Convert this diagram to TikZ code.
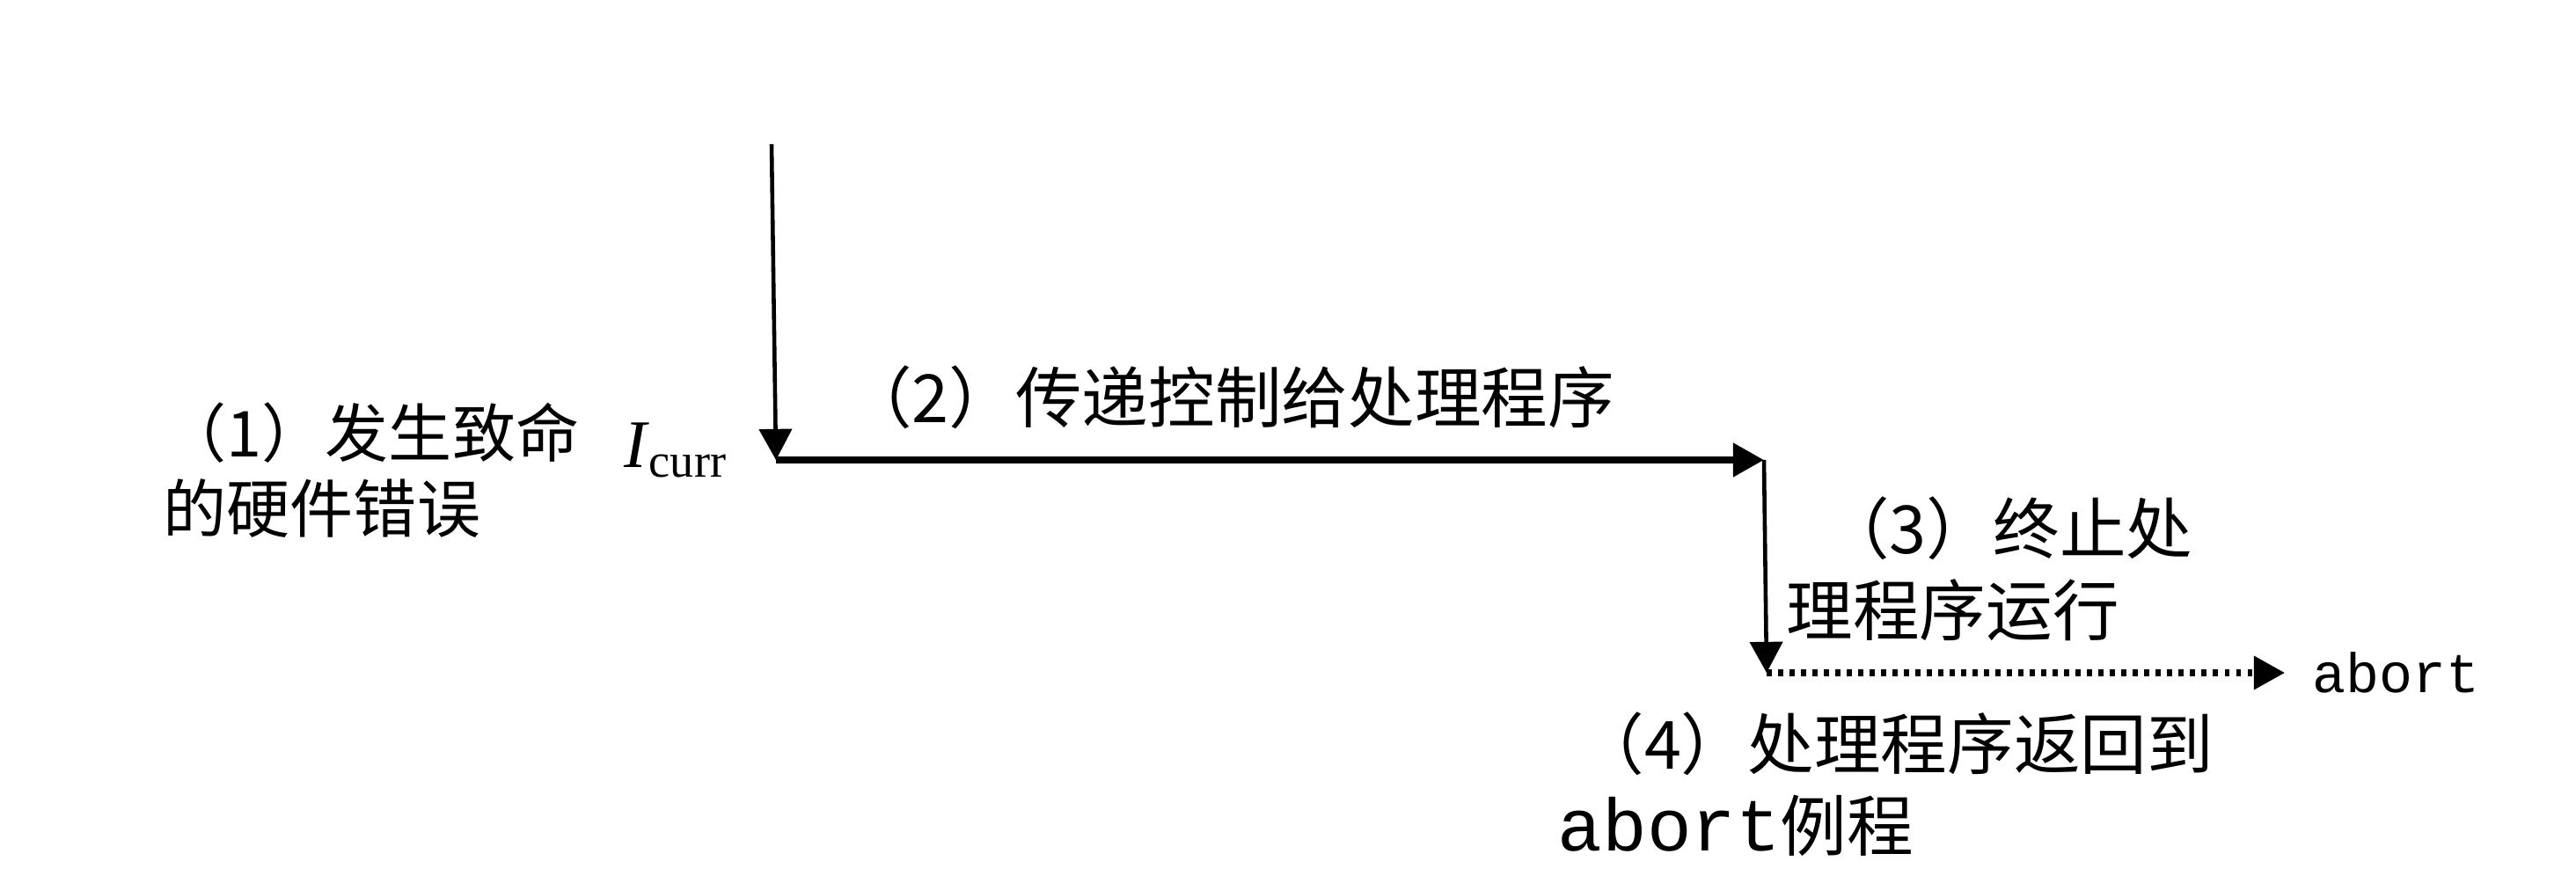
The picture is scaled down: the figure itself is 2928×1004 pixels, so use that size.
\documentclass[tikz,border=0pt]{standalone}
\usepackage{fontspec}
\setmainfont{Liberation Serif}
\setmonofont{Liberation Mono}
\newfontfamily\cjk{Noto Sans CJK SC}
\usetikzlibrary{arrows.meta}
\begin{document}
\begin{tikzpicture}[x=0.01cm,y=-0.01cm,
  lbl/.style={inner sep=0pt, font=\cjk\fontsize{20.5}{24.5}\selectfont, align=left},
  lblb/.style={inner sep=0pt, font=\cjk\fontsize{21.5}{26.5}\selectfont, align=left},
  monolbl/.style={inner sep=0pt, font=\ttfamily\fontsize{18}{22}\selectfont},
  tip/.style={-{Triangle[length=10pt,width=10.5pt]}},
  thinline/.style={line width=1.3pt},
  thickline/.style={line width=2.3pt},
  dotline/.style={line width=2pt, dash pattern=on 1.6pt off 2.1pt}]
\useasboundingbox (0,0) rectangle (2928,1004);
% coordinates
\coordinate (top) at (877,164);
\coordinate (c1) at (882,523);
\coordinate (c2) at (2005,523);
\coordinate (c3) at (2008,765);
\coordinate (dend) at (2597,765);
% labels
\node[lbl, anchor=west] (t1) at (185,535) {（1）发生致命\\的硬件错误};
\node[inner sep=0pt, font=\fontsize{22}{26}\selectfont] (icurr) at (768,512) {\textit{I}\textsubscript{curr}};
\node[lblb] (t2) at (1398,452) {（2）传递控制给处理程序};
\node[lblb, anchor=west] (t3) at (2030,647) {\hspace*{0.55em}（3）终止处\\理程序运行};
\node[monolbl, anchor=west] (ab) at (2628,765) {abort};
\node[lblb, anchor=west] (t4) at (1770,892) {\hspace*{0.3em}（4）处理程序返回到\\{\ttfamily\fontsize{24}{26}\selectfont abort}例程};
% connectors
\draw[thinline, tip] (top) -- (c1);
\draw[thickline, tip] (c1) -- (c2);
\draw[thinline, tip] (c2) -- (c3);
\draw[dotline, tip] (c3) -- (dend);
\end{tikzpicture}
\end{document}
